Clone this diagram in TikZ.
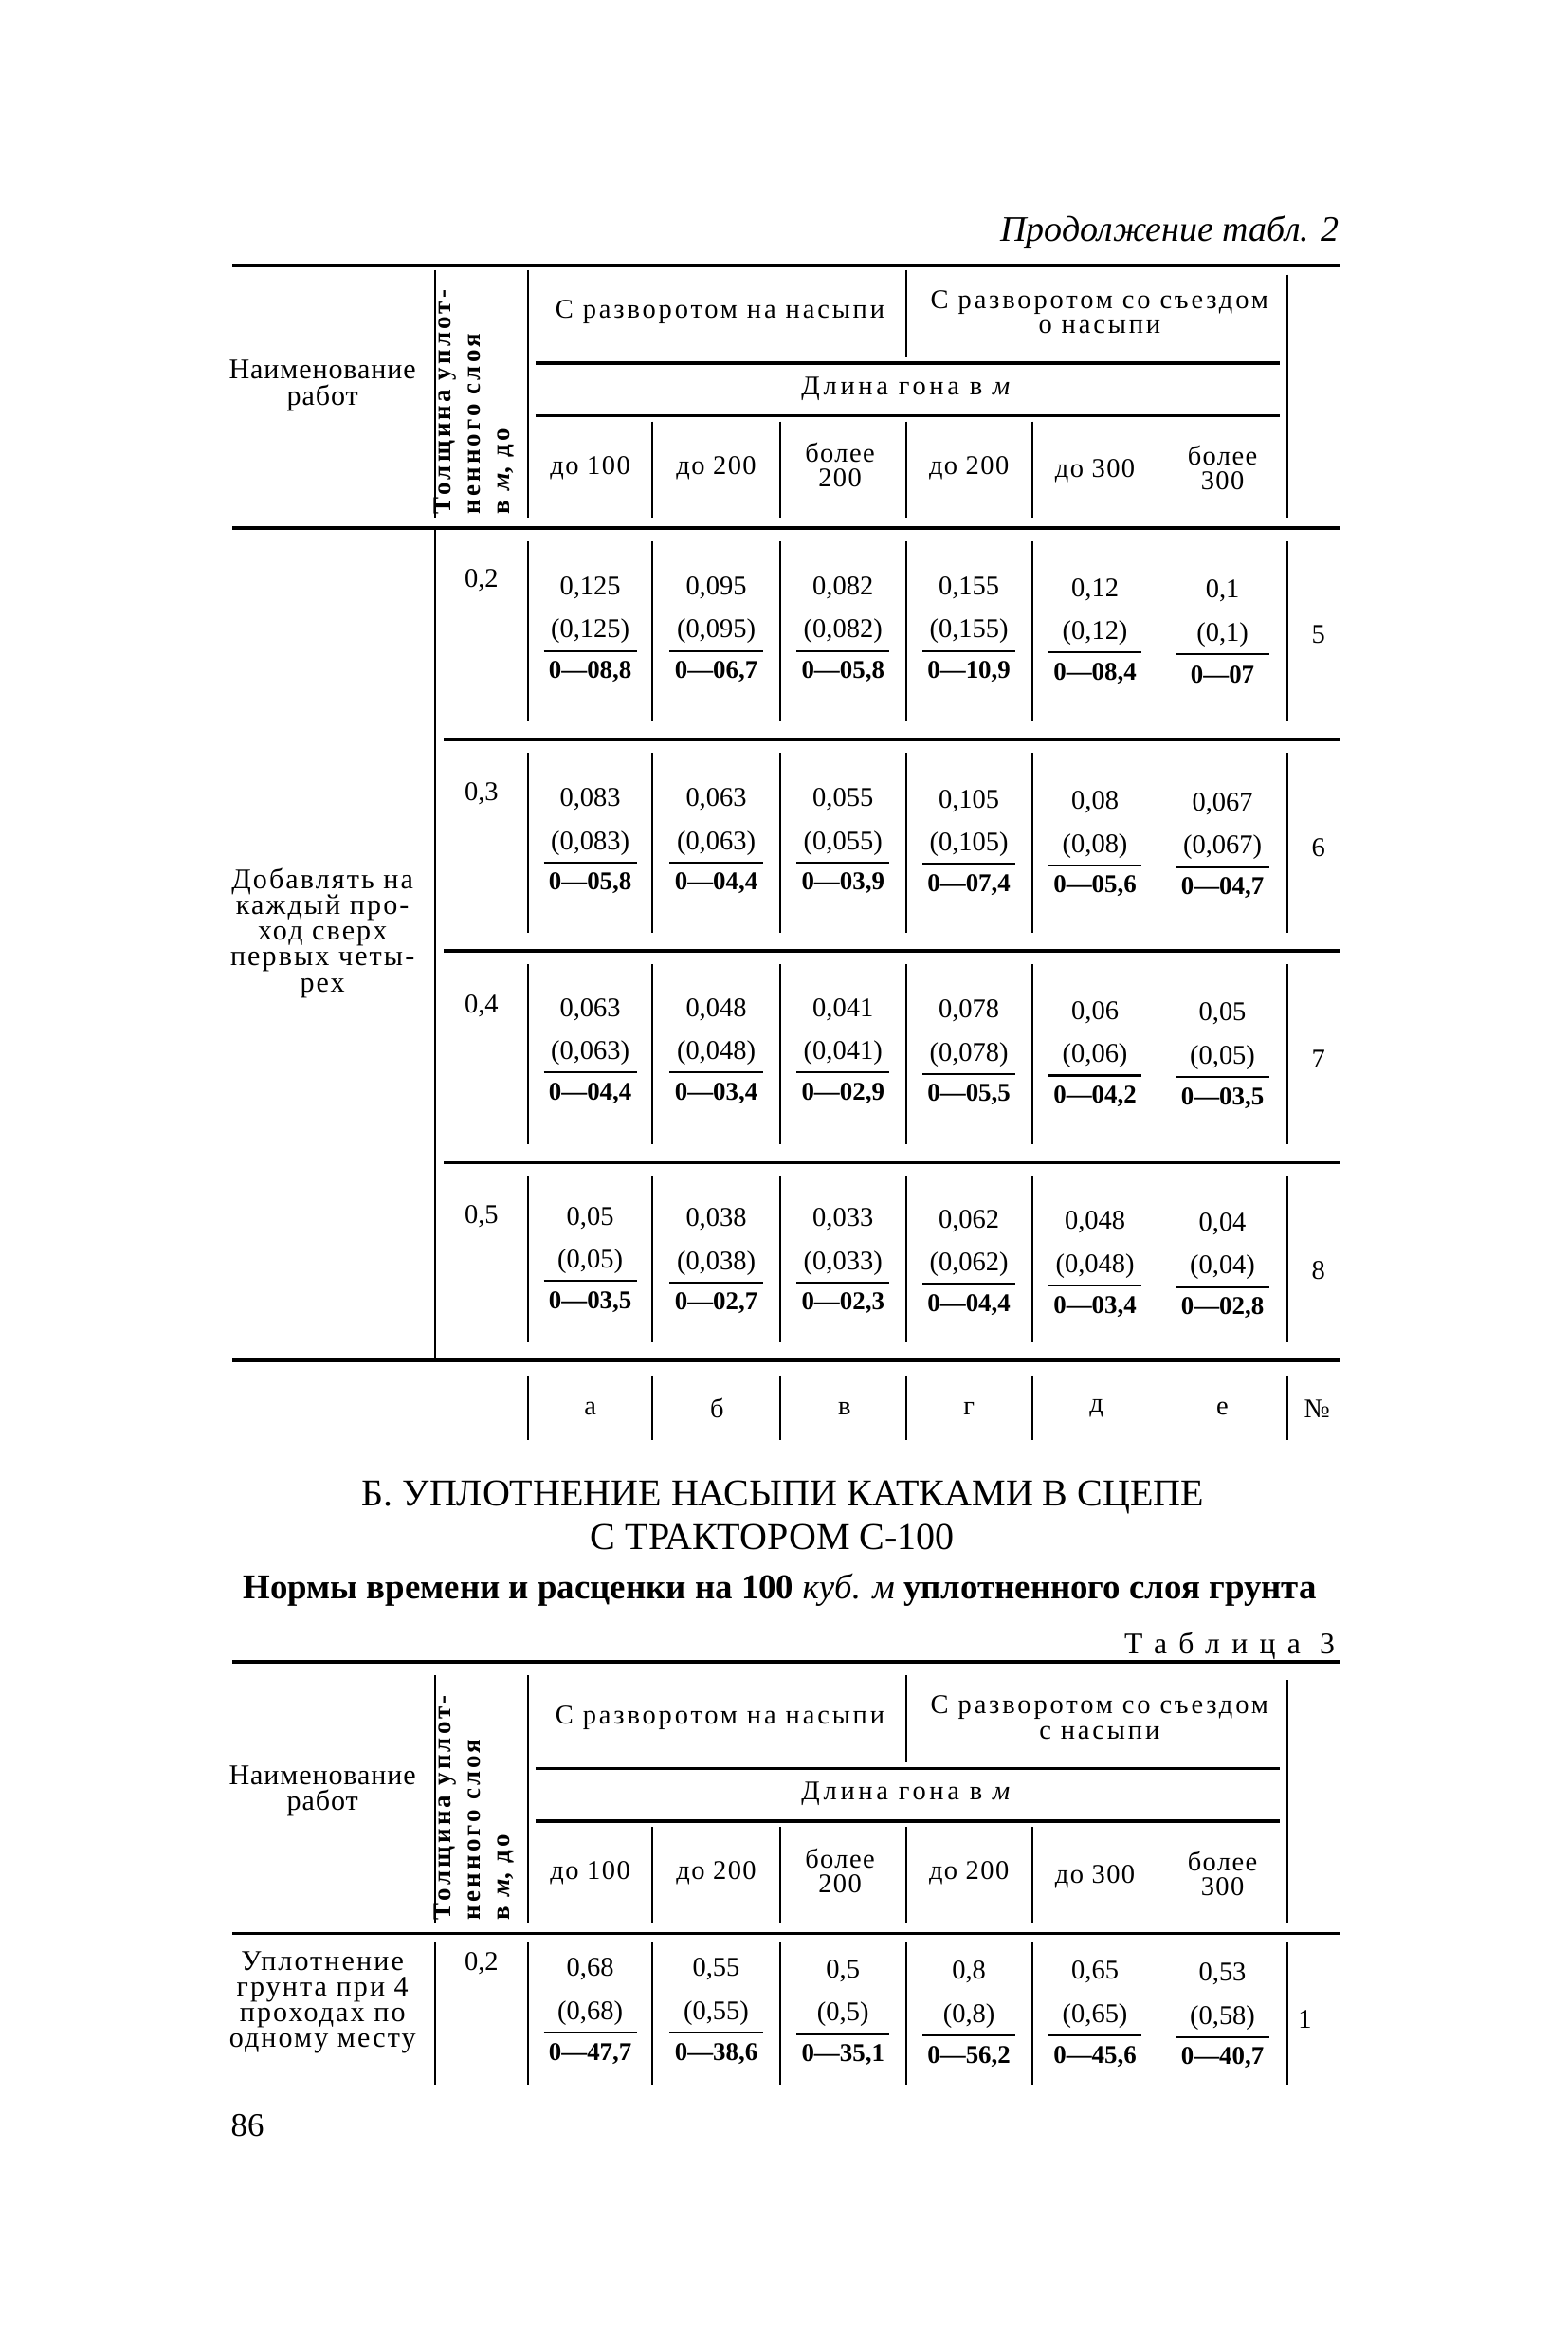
\documentclass[tikz,border=0pt]{standalone}
\usepackage{fontspec}
\setmainfont{Liberation Serif}
\usetikzlibrary{calc}
\newcommand\valcell[6]{%
  \node[val] (#1a) at (#2,#3) {#4};
  \node[val] (#1b) at (#2,#3+29) {#5};
  \draw[uline] (#2-31,#3+42) -- (#2+31,#3+42);
  \node[valb] (#1c) at (#2,#3+56) {#6};
}
\newcommand\tblhead[3]{%
  \begin{scope}[shift={(0,#2)}]
  \node[txt] (#1name) at (215,257) {Наименование\\работ};
  \node[rot] (#1thick) at (316,343) {Толщина уплот-\\ненного слоя\\в \textit{м}, до};
  \draw[vrule] (290,180) -- (290,345);
  \draw[vrule] (352,180) -- (352,345);
  \draw[vrule] (604,180) -- (604,238);
  \draw[vrule] (858,183) -- (858,345);
  \node[grp] (#1ga) at (480,208) {С разворотом на насыпи};
  \node[grp] (#1gb) at (733,208) {С разворотом со съездом\\#3};
  \draw[hrule] (357,242) -- (853,242);
  \node[lenh] (#1len) at (605,259) {Длина гона в \textit{м}};
  \draw[hrule] (357,277) -- (853,277);
  \foreach \x in {435,520,604,688,772} \draw[vrule] (\x,281) -- (\x,345);
  \node[hdr] (#1sa) at (393.5,312) {до 100};
  \node[hdr] (#1sb) at (477.5,312) {до 200};
  \node[hdr] (#1sc) at (560,310) {более\\200};
  \node[hdr] (#1sd) at (646,312) {до 200};
  \node[hdr] (#1se) at (730,314) {до 300};
  \node[hdr] (#1sf) at (815,312) {более\\300};
  \draw[hrule] (155,352) -- (893,352);
  \end{scope}
}
\begin{document}
\begin{tikzpicture}[x=1pt,y=-1pt,
  hrule/.style={line width=2.2pt},
  vrule/.style={line width=1.2pt},
  uline/.style={line width=1.3pt},
  val/.style={font=\fontsize{18}{20}\selectfont,inner sep=0pt},
  valb/.style={font=\fontsize{17}{20}\selectfont\bfseries,inner sep=0pt},
  txt/.style={font=\fontsize{19}{17.5}\selectfont\addfontfeature{LetterSpace=3},inner sep=0pt,align=center},
  lbl/.style={font=\fontsize{19}{17.2}\selectfont\addfontfeature{LetterSpace=7},inner sep=0pt,align=center},
  hdr/.style={font=\fontsize{18}{16.5}\selectfont\addfontfeature{LetterSpace=5},inner sep=0pt,align=center},
  grp/.style={font=\fontsize{18}{16.5}\selectfont\addfontfeature{LetterSpace=10},inner sep=0pt,align=center},
  lenh/.style={font=\fontsize{18}{16.5}\selectfont\addfontfeature{LetterSpace=13},inner sep=0pt,align=center},
  rot/.style={rotate=90,anchor=west,align=left,inner sep=0pt,font=\fontsize{17}{19.5}\selectfont\bfseries\addfontfeature{LetterSpace=12}},
]
\fill[white] (0,0) rectangle (1045,1568);
\useasboundingbox (0,0) rectangle (1045,1568);

% ---------- Table 2 continuation ----------
\node[font=\fontsize{24}{24}\selectfont\itshape,anchor=east,inner sep=0pt] (cont) at (893,155) {Продолжение табл. 2};
\draw[hrule] (155,177) -- (893,177);
\tblhead{ta}{0}{о насыпи}

% rows
\draw[vrule] (290,352) -- (290,907);
\foreach \t/\b in {352/493,493/634,634/775,775/907}{
  \foreach \x in {352,435,520,604,688,772,858} \draw[vrule] (\x,\t+9) -- (\x,\b-12);
}
\foreach \y in {493,634,775} \draw[hrule] (296,\y) -- (893,\y);
\draw[hrule] (155,907) -- (893,907);

\node[lbl] (lbl) at (215,622) {Добавлять на\\каждый про-\\ход сверх\\первых четы-\\рех};

\node[val] (th5) at (321,387) {0,2};
\node[val] (th6) at (321,529) {0,3};
\node[val] (th7) at (321,671) {0,4};
\node[val] (th8) at (321,811) {0,5};
\node[val] (n5) at (879,423) {5};
\node[val] (n6) at (879,565) {6};
\node[val] (n7) at (879,706) {7};
\node[val] (n8) at (879,847) {8};

\valcell{r5a}{393.5}{392}{0,125}{(0,125)}{0—08,8}
\valcell{r5b}{477.5}{392}{0,095}{(0,095)}{0—06,7}
\valcell{r5c}{562}{392}{0,082}{(0,082)}{0—05,8}
\valcell{r5d}{646}{392}{0,155}{(0,155)}{0—10,9}
\valcell{r5e}{730}{393}{0,12}{(0,12)}{0—08,4}
\valcell{r5f}{815}{394}{0,1}{(0,1)}{0—07}

\valcell{r6a}{393.5}{533}{0,083}{(0,083)}{0—05,8}
\valcell{r6b}{477.5}{533}{0,063}{(0,063)}{0—04,4}
\valcell{r6c}{562}{533}{0,055}{(0,055)}{0—03,9}
\valcell{r6d}{646}{534}{0,105}{(0,105)}{0—07,4}
\valcell{r6e}{730}{535}{0,08}{(0,08)}{0—05,6}
\valcell{r6f}{815}{536}{0,067}{(0,067)}{0—04,7}

\valcell{r7a}{393.5}{673}{0,063}{(0,063)}{0—04,4}
\valcell{r7b}{477.5}{673}{0,048}{(0,048)}{0—03,4}
\valcell{r7c}{562}{673}{0,041}{(0,041)}{0—02,9}
\valcell{r7d}{646}{674}{0,078}{(0,078)}{0—05,5}
\valcell{r7e}{730}{675}{0,06}{(0,06)}{0—04,2}
\valcell{r7f}{815}{676}{0,05}{(0,05)}{0—03,5}

\valcell{r8a}{393.5}{812}{0,05}{(0,05)}{0—03,5}
\valcell{r8b}{477.5}{813}{0,038}{(0,038)}{0—02,7}
\valcell{r8c}{562}{813}{0,033}{(0,033)}{0—02,3}
\valcell{r8d}{646}{814}{0,062}{(0,062)}{0—04,4}
\valcell{r8e}{730}{815}{0,048}{(0,048)}{0—03,4}
\valcell{r8f}{815}{816}{0,04}{(0,04)}{0—02,8}

% letter row
\foreach \x in {352,435,520,604,688,772,858} \draw[vrule] (\x,917) -- (\x,960);
\node[val] (la) at (393.5,939) {а};
\node[val] (lb) at (478,939) {б};
\node[val] (lc) at (563,939) {в};
\node[val] (ld) at (646,939) {г};
\node[val] (le) at (731,939) {д};
\node[val] (lf) at (815,939) {е};
\node[val] (lno) at (878,939) {№};

% ---------- Section B ----------
\node[font=\fontsize{25.3}{25}\selectfont,inner sep=0pt] (t1) at (522,998) {Б. УПЛОТНЕНИЕ НАСЫПИ КАТКАМИ В СЦЕПЕ};
\node[font=\fontsize{25.3}{25}\selectfont,inner sep=0pt] (t2) at (515,1025) {С ТРАКТОРОМ С-100};
\node[font=\fontsize{23.3}{23}\selectfont\bfseries,inner sep=0pt] (t3) at (520,1060) {Нормы времени и расценки на 100 \textit{\mdseries куб. м} уплотненного слоя грунта};
\node[font=\fontsize{20}{20}\selectfont\addfontfeature{LetterSpace=39},anchor=east,inner sep=0pt] (t4) at (890,1097) {Таблица 3};

% ---------- Table 3 ----------
\draw[hrule] (155,1108) -- (893,1108);
\tblhead{tb}{937}{с насыпи}
\foreach \x in {290,352,435,520,604,688,772,858} \draw[vrule] (\x,1295) -- (\x,1390);
\node[lbl] (lbl3) at (215,1335) {Уплотнение\\грунта при 4\\проходах по\\одному месту};
\node[val] (th1) at (321,1309) {0,2};
\node[val] (n1) at (870,1346) {1};
\valcell{s1a}{393.5}{1313}{0,68}{(0,68)}{0—47,7}
\valcell{s1b}{477.5}{1313}{0,55}{(0,55)}{0—38,6}
\valcell{s1c}{562}{1314}{0,5}{(0,5)}{0—35,1}
\valcell{s1d}{646}{1315}{0,8}{(0,8)}{0—56,2}
\valcell{s1e}{730}{1315}{0,65}{(0,65)}{0—45,6}
\valcell{s1f}{815}{1316}{0,53}{(0,58)}{0—40,7}

\node[font=\fontsize{22}{22}\selectfont,inner sep=0pt] (page) at (165,1417) {86};
\end{tikzpicture}
\end{document}
